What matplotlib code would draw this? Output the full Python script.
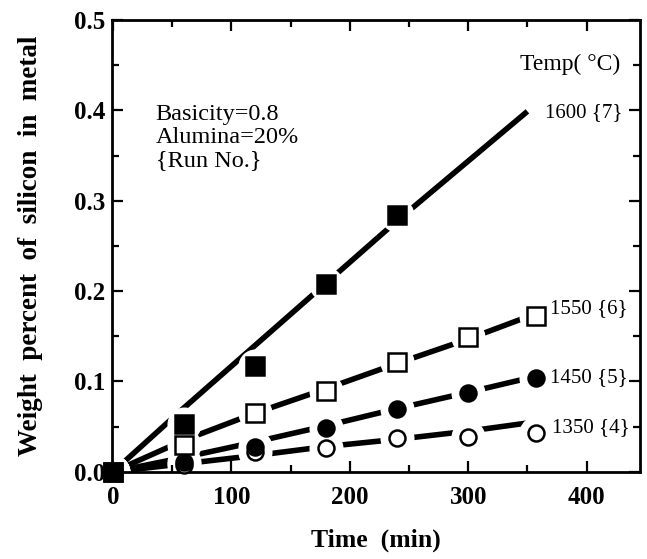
import matplotlib
matplotlib.use("Agg")
import matplotlib.pyplot as plt
from matplotlib.ticker import MultipleLocator

# ---- data ----
t1600 = [0, 60, 120, 180, 240]
si1600 = [0.0, 0.053, 0.117, 0.208, 0.284]
t1550 = [0, 60, 120, 180, 240, 300, 357]
si1550 = [0.0, 0.030, 0.065, 0.089, 0.121, 0.149, 0.173]
t1450 = [0, 60, 120, 180, 240, 300, 357]
si1450 = [0.0, 0.011, 0.027, 0.048, 0.070, 0.087, 0.104]
t1350 = [0, 60, 120, 180, 240, 300, 357]
si1350 = [0.0, 0.008, 0.022, 0.026, 0.037, 0.038, 0.043]

# fitted curves drawn through the data
fit_t1600 = [0, 60, 120, 180, 240, 300, 350]
fit_si1600 = [0.0, 0.071, 0.140, 0.209, 0.278, 0.344, 0.399]
fit_t1550 = [0, 60, 120, 180, 240, 300, 355]
fit_si1550 = [0.0, 0.035, 0.065, 0.092, 0.120, 0.147, 0.174]
fit_t1450 = [0, 60, 120, 180, 240, 300, 355]
fit_si1450 = [0.0, 0.016, 0.033, 0.051, 0.070, 0.088, 0.105]
fit_t1350 = [0, 60, 120, 180, 240, 300, 350]
fit_si1350 = [0.0, 0.009, 0.018, 0.028, 0.036, 0.045, 0.054]

labels = ["1600 {7}", "1550 {6}", "1450 {5}", "1350 {4}"]
label_pos = [(365, 0.398), (369, 0.181), (369, 0.104), (371, 0.049)]

# ---- figure ----
fig = plt.figure(figsize=(6.47, 5.59), dpi=100)
ax = fig.add_axes([0.173, 0.156, 0.816, 0.808])

serif = "Liberation Serif"

for ft, fy in [(fit_t1600, fit_si1600), (fit_t1550, fit_si1550),
               (fit_t1450, fit_si1450), (fit_t1350, fit_si1350)]:
    ax.plot(ft, fy, color="black", lw=4.0, solid_capstyle="butt", zorder=1)

series = [
    (t1350, si1350, "o", "white"),
    (t1450, si1450, "o", "black"),
    (t1550, si1550, "s", "white"),
    (t1600, si1600, "s", "black"),
]
# white halos to break the lines around the markers
for t, s, m, fc in series:
    ax.scatter(t, s, s=24.5 ** 2, marker="o", c="white", linewidths=0,
               zorder=1.5)
for t, s, m, fc in series:
    ms = 12.5 if m == "s" else 11.5
    ax.plot(t, s, ls="none", marker=m, ms=ms, mfc=fc, mec="black", mew=1.8,
            zorder=3, clip_on=False)

ax.set_xlim(-1, 445)
ax.set_ylim(0, 0.5)

ax.xaxis.set_major_locator(MultipleLocator(100))
ax.xaxis.set_minor_locator(MultipleLocator(50))
ax.yaxis.set_major_locator(MultipleLocator(0.1))
ax.yaxis.set_minor_locator(MultipleLocator(0.05))
ax.tick_params(which="both", direction="in", top=True, right=True, width=1.6)
ax.tick_params(which="major", length=8)
ax.tick_params(which="minor", length=5)
ax.tick_params(axis="x", which="major", pad=10)
ax.tick_params(axis="y", which="major", pad=5)
ax.yaxis.set_major_formatter(plt.FuncFormatter(lambda v, p: f"{v:.1f}"))

for lab in ax.get_xticklabels() + ax.get_yticklabels():
    lab.set_fontfamily(serif)
    lab.set_fontweight("bold")
    lab.set_fontsize(18)

for sp in ax.spines.values():
    sp.set_linewidth(2)

ax.set_xlabel("Time  (min)", fontfamily=serif, fontweight="bold",
              fontsize=18.5, labelpad=14)
ax.set_ylabel("Weight  percent  of  silicon  in  metal", fontfamily=serif,
              fontweight="bold", fontsize=19.5, labelpad=22)

ax.text(0.083, 0.815, "Basicity=0.8\nAlumina=20%\n{Run No.}", transform=ax.transAxes,
        fontfamily=serif, fontsize=17.5, va="top", ha="left",
        linespacing=1.15)
ax.text(344, 0.451, "Temp( °C)", fontfamily=serif, fontsize=17, va="center",
        ha="left")
for lab, (x, y) in zip(labels, label_pos):
    ax.text(x, y, lab, fontfamily=serif, fontsize=15, va="center", ha="left")

fig.savefig("out.png", dpi=100)
